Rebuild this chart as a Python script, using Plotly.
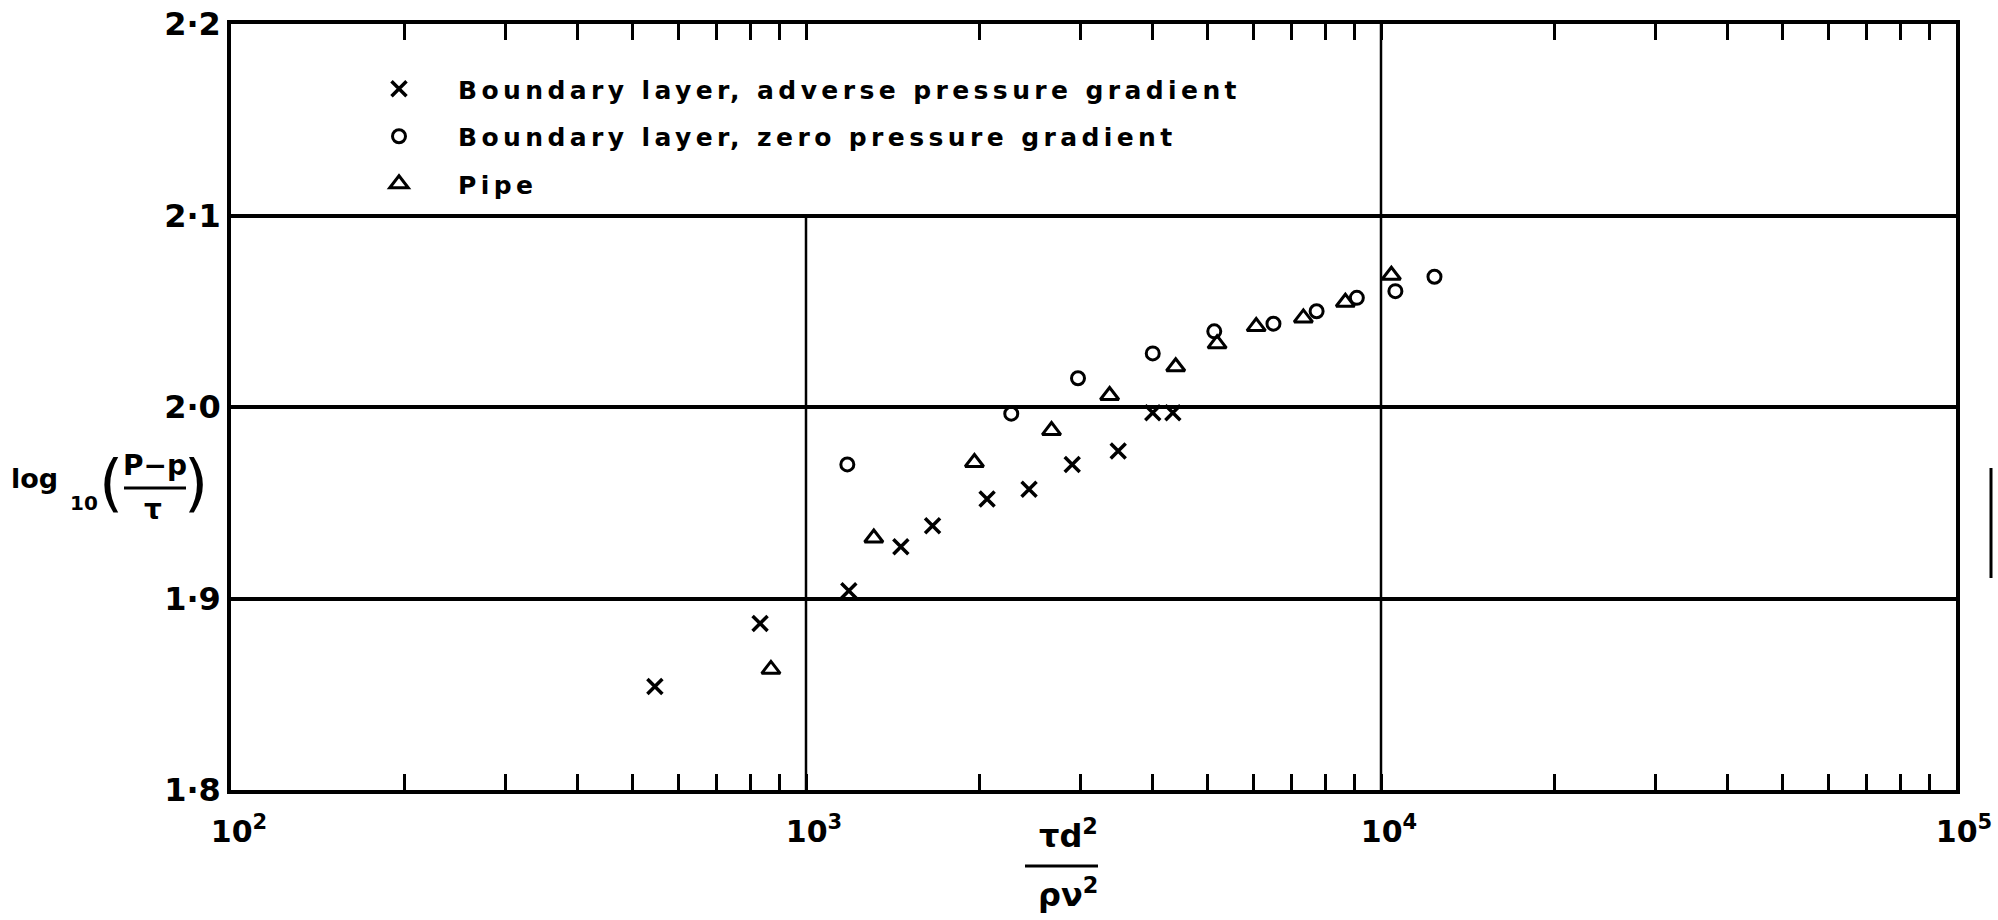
import plotly.graph_objects as go

# ---------------- data ----------------
adverse_x = [546, 832, 1187, 1462, 1660, 2065, 2443, 2904, 3491, 4009, 4345]
adverse_y = [1.854, 1.887, 1.904, 1.927, 1.938, 1.952, 1.957, 1.970, 1.977, 1.997, 1.997]

zero_x = [1180, 2275, 2972, 4009, 5129, 6501, 7727, 9078, 10593, 12388]
zero_y = [1.970, 1.9965, 2.015, 2.028, 2.0395, 2.0435, 2.050, 2.057, 2.0605, 2.068]

pipe_x = [869, 1312, 1963, 2673, 3373, 4395, 5188, 6067, 7328, 8670, 10423]
pipe_y = [1.863, 1.9316, 1.971, 1.9877, 2.006, 2.021, 2.033, 2.042, 2.0465, 2.0547, 2.0688]

x_tickvals = [100, 1000, 10000, 100000]
x_ticktext = ["10<sup>2</sup>", "10<sup>3</sup>", "10<sup>4</sup>", "10<sup>5</sup>"]
y_tickvals = [1.8, 1.9, 2.0, 2.1, 2.2]
y_ticktext = ["1·8", "1·9", "2·0", "2·1", "2·2"]

# vertical decade rules: x position and how high they reach
rule_x = [1000, 10000]
rule_top = [2.1, 2.2]
y_bottom = 1.8

names = [
    "Boundary layer, adverse pressure gradient",
    "Boundary layer, zero pressure gradient",
    "Pipe",
]

# ---------------- layout geometry ----------------
W, H = 1998, 920
ML, MR, MT, MB = 231, 42, 24, 130
PW = W - ML - MR
PH = H - MT - MB


def px(xp):
    return (xp - ML) / PW


def py(yp):
    return (H - MB - yp) / PH


FONT = "DejaVu Sans"
BLACK = "black"

fig = go.Figure()

# decade rules
for xv, top in zip(rule_x, rule_top):
    fig.add_trace(go.Scatter(
        x=[xv, xv], y=[y_bottom, top], mode="lines",
        line=dict(color=BLACK, width=2.5), showlegend=False, hoverinfo="skip",
    ))


def lname(s):
    return '<span style="letter-spacing:4.4px">' + s + "</span>"


fig.add_trace(go.Scatter(
    x=adverse_x, y=adverse_y, mode="markers", name=lname(names[0]), legendgroup="a",
    marker=dict(symbol="x-thin", size=15, line=dict(color=BLACK, width=3.5), color=BLACK),
))
fig.add_trace(go.Scatter(
    x=zero_x, y=zero_y, mode="markers", name=lname(names[1]), legendgroup="b",
    marker=dict(symbol="circle-open", size=13, line=dict(color=BLACK, width=3), color=BLACK),
))
fig.add_trace(go.Scatter(
    x=pipe_x, y=pipe_y, mode="markers", name=lname(names[2]), legendgroup="c",
    marker=dict(symbol="triangle-up-open", size=16, line=dict(color=BLACK, width=3), color=BLACK),
))

annotations = []
shapes = []


def txt(text, xp, yp, size, bold=True, xanchor="center", yanchor="middle"):
    annotations.append(dict(
        text=text, x=px(xp), y=py(yp), xref="paper", yref="paper",
        xanchor=xanchor, yanchor=yanchor, showarrow=False,
        font=dict(family=FONT, size=size, color=BLACK, weight="bold" if bold else "normal"),
    ))


def hbar(x0, x1, yp, width=3):
    shapes.append(dict(type="line", xref="paper", yref="paper",
                       x0=px(x0), x1=px(x1), y0=py(yp), y1=py(yp),
                       line=dict(color=BLACK, width=width)))


# y-axis title: log10((P-p)/tau)
txt("log", 34, 478, 27)
txt("10", 84, 503, 20)
txt("(", 111, 482, 62, bold=False)
txt("P−p", 155, 465, 28)
hbar(124, 186, 488)
txt("τ", 153, 510, 28)
txt(")", 196, 482, 62, bold=False)

# x-axis title: tau d^2 / (rho nu^2)
txt("τd<sup>2</sup>", 1068, 834, 32)
hbar(1025, 1098, 866)
txt("ρν<sup>2</sup>", 1068, 893, 32)

# stray scan mark at right margin
shapes.append(dict(type="line", xref="paper", yref="paper",
                   x0=px(1991), x1=px(1991), y0=py(468), y1=py(578),
                   line=dict(color=BLACK, width=3)))

fig.update_layout(
    width=W, height=H,
    margin=dict(l=ML, r=MR, t=MT, b=MB, autoexpand=False),
    paper_bgcolor="white", plot_bgcolor="white",
    font=dict(family=FONT, color=BLACK, size=26),
    showlegend=True,
    legend=dict(
        x=px(340), y=py(66), xanchor="left", yanchor="top",
        bgcolor="rgba(0,0,0,0)", borderwidth=0,
        font=dict(family=FONT, size=25, color=BLACK, weight="bold"),
        itemwidth=108, tracegroupgap=12, traceorder="grouped",
    ),
    annotations=annotations,
    shapes=shapes,
    hovermode=False,
)

fig.update_xaxes(
    type="log", range=[2, 5], automargin=False,
    showline=True, linewidth=3.5, linecolor=BLACK, mirror="ticks",
    showgrid=False, zeroline=False,
    tickmode="array", tickvals=x_tickvals, ticktext=x_ticktext,
    ticks="inside", ticklen=2, tickwidth=2.5, tickcolor=BLACK,
    ticklabelstandoff=12, ticklabelshift=8,
    tickfont=dict(family=FONT, size=30, color=BLACK, weight="bold"),
    minor=dict(ticks="inside", ticklen=16, tickwidth=3, tickcolor=BLACK, dtick="D1", showgrid=False),
)
fig.update_yaxes(
    range=[1.8, 2.2], automargin=False,
    showline=True, linewidth=3.5, linecolor=BLACK, mirror=True,
    showgrid=True, gridcolor=BLACK, gridwidth=3.5, zeroline=False,
    tickmode="array", tickvals=y_tickvals, ticktext=y_ticktext,
    ticks="", tickfont=dict(family=FONT, size=32, color=BLACK, weight="bold"),
)

fig.write_html(
    "out.html",
    config={"displayModeBar": False},
    post_script="document.body.style.margin='0px';",
)
